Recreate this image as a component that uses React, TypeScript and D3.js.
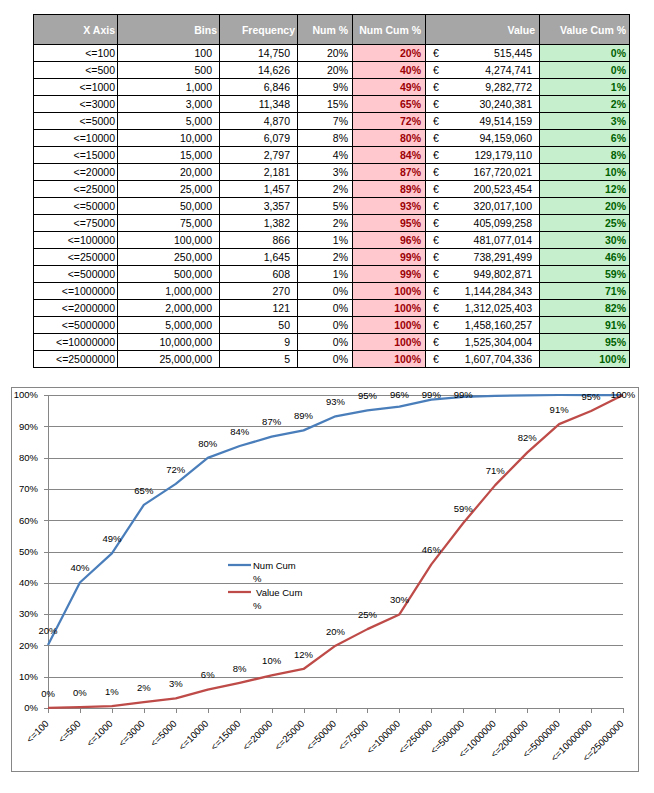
import React from "react";
import * as d3 from "d3";

const xLabels = ["<=100","<=500","<=1000","<=3000","<=5000","<=10000","<=15000","<=20000","<=25000","<=50000","<=75000","<=100000","<=250000","<=500000","<=1000000","<=2000000","<=5000000","<=10000000","<=25000000"];
const bins = [100,500,1000,3000,5000,10000,15000,20000,25000,50000,75000,100000,250000,500000,1000000,2000000,5000000,10000000,25000000];
const frequency = [14750,14626,6846,11348,4870,6079,2797,2181,1457,3357,1382,866,1645,608,270,121,50,9,5];
const numPct = [20,20,9,15,7,8,4,3,2,5,2,1,2,1,0,0,0,0,0];
const numCumPct = [20.1,40.1,49.4,64.9,71.6,79.9,83.7,86.7,88.7,93.2,95.1,96.3,98.5,99.4,99.7,99.9,100,100,100];
const values = [515445,4274741,9282772,30240381,49514159,94159060,129179110,167720021,200523454,320017100,405099258,481077014,738291499,949802871,1144284343,1312025403,1458160257,1525304004,1607704336];
const valueCumPct = [0.03,0.27,0.58,1.88,3.08,5.86,8.03,10.43,12.47,19.9,25.2,29.9,45.9,59.1,71.2,81.6,90.7,94.9,100];
const headers = ["X Axis","Bins","Frequency","Num %","Num Cum %","Value","Value Cum %"];
const yTicks = [0,10,20,30,40,50,60,70,80,90,100];
const seriesNames = ["Num Cum %","Value Cum %"];
const numCumLabelCount = 14;

const FONT = "'Liberation Sans', Arial, sans-serif";
const colX = [33,117,219,297,352,425,539,629];
const tableTop = 14;
const headH = 30;
const rowH = 17;

const BLUE = "#4a7ebb";
const RED = "#be4b48";
const GRID = "#868686";

export default function App() {
  const fmt = d3.format(",");
  const pct = (v: number) => `${Math.round(v)}%`;
  const x = d3.scalePoint<string>().domain(xLabels).range([48, 623]);
  const y = d3.scaleLinear().domain([0, 100]).range([708, 395]);
  const line = d3.line<number>().x((_, i) => x(xLabels[i]) as number).y(d => y(d));
  const labelY = (v: number) => Math.max(y(v) - 14.5, y(100));

  const rows = xLabels.map((lab, i) => ({
    cells: [lab, fmt(bins[i]), fmt(frequency[i]), `${numPct[i]}%`, pct(numCumPct[i]), fmt(values[i]), pct(valueCumPct[i])],
  }));
  const pads = [2, 7, 7, 4, 4, 7, 3];
  const headPads = [2, 2, 2, 4, 4, 4, 3];

  return (
    <svg width={654} height={793} style={{ position: "absolute", left: 0, top: 0, background: "#fff" }} fontFamily={FONT}>
      {/* Table */}
      <rect x={colX[0]} y={tableTop} width={colX[7] - colX[0]} height={headH} fill="#a6a6a6" />
      {rows.map((r, i) => {
        const ry = tableTop + headH + i * rowH;
        return (
          <g key={i}>
            <rect x={colX[4]} y={ry} width={colX[5] - colX[4]} height={rowH} fill="#ffc7ce" />
            <rect x={colX[6]} y={ry} width={colX[7] - colX[6]} height={rowH} fill="#c6efce" />
          </g>
        );
      })}
      {headers.map((h, j) => (
        <text key={j} x={colX[j + 1] - headPads[j]} y={tableTop + 19.5} textAnchor="end" fontSize={10.5} fontWeight="bold" fill="#fff">{h}</text>
      ))}
      {rows.map((r, i) => {
        const ry = tableTop + headH + i * rowH;
        return (
          <g key={i}>
            {r.cells.map((c, j) => (
              <text key={j} x={colX[j + 1] - pads[j]} y={ry + 13} textAnchor="end" fontSize={10.5}
                fontWeight={j === 4 || j === 6 ? "bold" : "normal"}
                fill={j === 4 ? "#9c0006" : j === 6 ? "#006100" : "#000"}>{c}</text>
            ))}
            <text x={colX[5] + 8} y={ry + 13} fontSize={10.5} fill="#000">€</text>
          </g>
        );
      })}
      {Array.from({ length: xLabels.length + 2 }, (_, i) => {
        const ly = i === 0 ? tableTop : tableTop + headH + (i - 1) * rowH;
        return <line key={i} x1={colX[0]} x2={colX[7]} y1={ly + 0.5} y2={ly + 0.5} stroke="#000" />;
      })}
      {colX.map((cx, j) => (
        <line key={j} x1={cx + 0.5} x2={cx + 0.5} y1={tableTop} y2={tableTop + headH + xLabels.length * rowH + 1} stroke="#000" />
      ))}

      {/* Chart */}
      <rect x={11.5} y={387.5} width={627} height={384} fill="#fff" stroke={GRID} />
      {yTicks.map(t => (
        <g key={t}>
          <line x1={44} x2={623} y1={Math.round(y(t)) + 0.5} y2={Math.round(y(t)) + 0.5} stroke={GRID} />
          <text x={38} y={y(t)} dy="0.35em" textAnchor="end" fontSize={9.5} fill="#000">{t}%</text>
        </g>
      ))}
      <line x1={48.5} x2={48.5} y1={y(100)} y2={y(0)} stroke={GRID} />
      {xLabels.map(l => (
        <g key={l}>
          <line x1={Math.round(x(l) as number) + 0.5} x2={Math.round(x(l) as number) + 0.5} y1={y(0)} y2={y(0) + 5} stroke={GRID} />
          <text transform={`translate(${(x(l) as number) - 1},${722}) rotate(-45)`} textAnchor="end" dy="0.35em" fontSize={9.5} fill="#000">{l}</text>
        </g>
      ))}
      <path d={line(numCumPct) as string} fill="none" stroke={BLUE} strokeWidth={2.25} strokeLinejoin="round" />
      <path d={line(valueCumPct) as string} fill="none" stroke={RED} strokeWidth={2.25} strokeLinejoin="round" />
      {numCumPct.slice(0, numCumLabelCount).map((v, i) => (
        <text key={i} x={x(xLabels[i])} y={labelY(v)} dy="0.35em" textAnchor="middle" fontSize={9.5} fill="#000">{pct(v)}</text>
      ))}
      {valueCumPct.map((v, i) => (
        <text key={i} x={x(xLabels[i])} y={labelY(v)} dy="0.35em" textAnchor="middle" fontSize={9.5} fill="#000">{pct(v)}</text>
      ))}
      {/* Legend */}
      {seriesNames.map((n, k) => {
        const ly = 565 + k * 27;
        const parts = n.split(" ");
        const first = parts.slice(0, -1).join(" ");
        return (
          <g key={n}>
            <line x1={228} x2={251} y1={ly} y2={ly} stroke={k === 0 ? BLUE : RED} strokeWidth={2.25} />
            <text x={k === 0 ? 253 : 256} y={ly + 1} dy="0.35em" fontSize={9.5} fill="#000">{first}</text>
            <text x={253} y={ly + 14} dy="0.35em" fontSize={9.5} fill="#000">{parts[parts.length - 1]}</text>
          </g>
        );
      })}
    </svg>
  );
}
